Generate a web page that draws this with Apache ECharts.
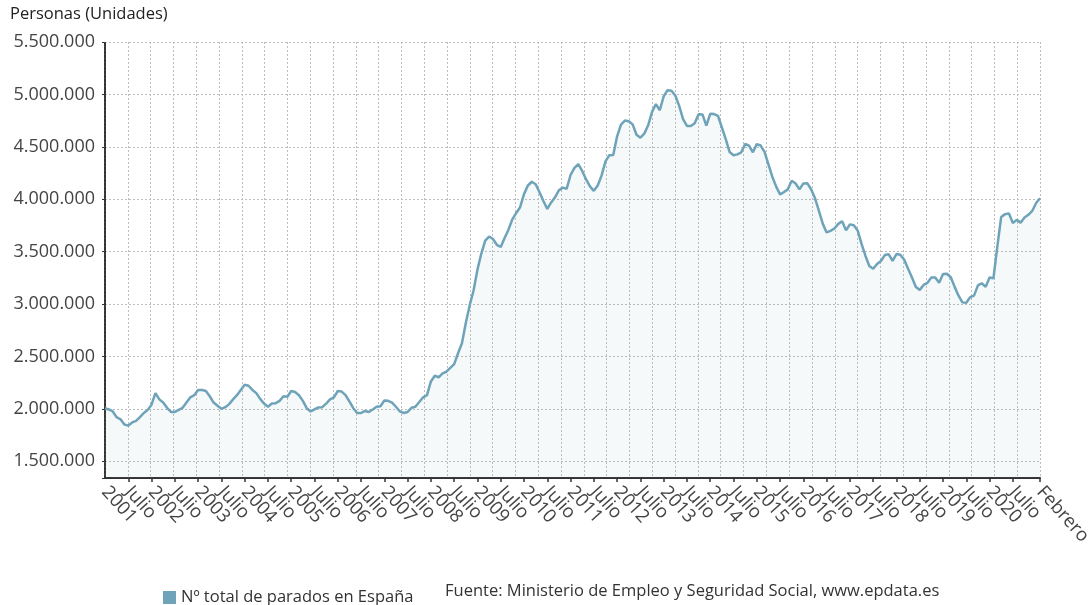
<!DOCTYPE html>
<html>
<head>
<meta charset="utf-8">
<title>Nº total de parados en España</title>
<script src="https://cdn.jsdelivr.net/npm/echarts@6/dist/echarts.min.js"></script>
<style>
  html, body { margin: 0; padding: 0; background: #fff; }
  #chart { width: 1088px; height: 605px; }
</style>
</head>
<body>
<div id="chart"></div>
<script>
// paro registrado, un array por año (enero..diciembre)
var paro2001 = [2006000, 1994000, 1975000, 1920000, 1900000, 1850000, 1840000, 1870000, 1885000, 1920000, 1960000, 1990000];
var paro2002 = [2040000, 2150000, 2090000, 2060000, 2010000, 1970000, 1970000, 1990000, 2010000, 2060000, 2110000, 2130000];
var paro2003 = [2180000, 2180000, 2170000, 2120000, 2060000, 2030000, 2000000, 2016000, 2045000, 2090000, 2130000, 2180000];
var paro2004 = [2230000, 2220000, 2180000, 2150000, 2095000, 2050000, 2020000, 2050000, 2054000, 2076000, 2120000, 2115000];
var paro2005 = [2170000, 2160000, 2130000, 2076000, 2006000, 1975000, 1994000, 2013000, 2016000, 2050000, 2090000, 2110000];
var paro2006 = [2170000, 2165000, 2130000, 2070000, 2006000, 1960000, 1960000, 1980000, 1970000, 1994000, 2020000, 2025000];
var paro2007 = [2080000, 2076000, 2060000, 2020000, 1975000, 1960000, 1970000, 2010000, 2020000, 2065000, 2110000, 2130000];
var paro2008 = [2261419, 2315331, 2300975, 2338517, 2353985, 2390411, 2426007, 2530001, 2625368, 2818026, 2989269, 3128963];
var paro2009 = [3327801, 3481859, 3605402, 3644041, 3620139, 3564889, 3544009, 3629105, 3709447, 3808353, 3868946, 3923603];
var paro2010 = [4048493, 4130625, 4166613, 4142425, 4066202, 3982368, 3908262, 3969661, 4017763, 4085976, 4110294, 4100073];
var paro2011 = [4231003, 4299263, 4333669, 4269360, 4189659, 4121801, 4080263, 4130927, 4226744, 4360926, 4420462, 4422359];
var paro2012 = [4599829, 4712098, 4750867, 4744235, 4714122, 4615269, 4587455, 4625634, 4705279, 4833521, 4907817, 4848723];
var paro2013 = [4980778, 5040222, 5035243, 4989193, 4890928, 4763680, 4698783, 4698814, 4724355, 4811383, 4808908, 4701338];
var paro2014 = [4814435, 4812486, 4795866, 4684301, 4572385, 4449701, 4419860, 4427930, 4447650, 4526804, 4512116, 4447711];
var paro2015 = [4525691, 4512153, 4451939, 4333016, 4215031, 4120304, 4046276, 4067955, 4094042, 4176369, 4149298, 4093508];
var paro2016 = [4150710, 4152986, 4094770, 4011171, 3891403, 3767054, 3683061, 3697496, 3720297, 3764982, 3789823, 3702974];
var paro2017 = [3760231, 3750876, 3702317, 3573036, 3461128, 3362811, 3335924, 3382324, 3410182, 3467026, 3474281, 3412781];
var paro2018 = [3476528, 3470248, 3422551, 3335868, 3252130, 3162162, 3135021, 3182068, 3202509, 3254139, 3252867, 3202297];
var paro2019 = [3285761, 3289040, 3255084, 3163566, 3079491, 3015686, 3011433, 3065804, 3079711, 3177659, 3198184, 3163605];
var paro2020 = [3253853, 3246047, 3548312, 3831203, 3857776, 3862883, 3773034, 3802814, 3776485, 3826043, 3851312, 3888137];
var paro2021 = [3964353, 4008789];

var anios = [2001, 2002, 2003, 2004, 2005, 2006, 2007, 2008, 2009, 2010, 2011,
             2012, 2013, 2014, 2015, 2016, 2017, 2018, 2019, 2020, 2021];
var meses = ['Enero', 'Febrero', 'Marzo', 'Abril', 'Mayo', 'Junio', 'Julio',
             'Agosto', 'Septiembre', 'Octubre', 'Noviembre', 'Diciembre'];
var porAnio = [paro2001, paro2002, paro2003, paro2004, paro2005, paro2006, paro2007,
               paro2008, paro2009, paro2010, paro2011, paro2012, paro2013, paro2014,
               paro2015, paro2016, paro2017, paro2018, paro2019, paro2020, paro2021];

var categorias = [];
var valores = [];
porAnio.forEach(function (serie, k) {
    serie.forEach(function (v, m) {
        categorias.push(meses[m] + ' ' + anios[k]);
        valores.push(v);
    });
});

var ultimo = categorias.length - 1;
// enero y julio de cada año hasta julio 2020, y el último mes
function marca(i) { return (i % 6 === 0 && i < ultimo - 6) || i === ultimo; }

function miles(v) {
    return String(v).replace(/\B(?=(\d{3})+(?!\d))/g, '.');
}

var fuente = '"Open Sans", "Noto Sans", sans-serif';
var azul = '#6ea3b9';

function etiqueta(v) {
    var p = v.split(' ');
    if (p[0] === 'Enero') return p[1];
    return p[0];
}

var estiloEtiqueta = {
    rotate: -48,
    margin: 11,
    fontSize: 18.5,
    color: '#444',
    hideOverlap: false,
    formatter: etiqueta
};

var chart = echarts.init(document.getElementById('chart'));

chart.setOption({
    animation: false,
    textStyle: { fontFamily: fuente },
    grid: { left: 105, right: 48, top: 42, bottom: 127, containLabel: false, outerBoundsMode: 'none' },
    legend: {
        left: 158,
        top: 584,
        icon: 'rect',
        itemWidth: 13,
        itemHeight: 13,
        itemGap: 6,
        textStyle: { fontFamily: fuente, fontSize: 16.5, color: '#333' },
        data: ['Nº total de parados en España']
    },
    graphic: [
        {
            type: 'text', left: 10, top: 6,
            style: { text: 'Personas (Unidades)', font: '16.5px ' + fuente, fill: '#222' }
        },
        {
            type: 'text', left: 445, top: 583,
            style: { text: 'Fuente: Ministerio de Empleo y Seguridad Social, www.epdata.es', font: '16.5px ' + fuente, fill: '#333' }
        }
    ],
    xAxis: [
        {
            type: 'category',
            data: categorias,
            boundaryGap: false,
            axisLine: { lineStyle: { color: '#333', width: 2 } },
            axisTick: { interval: marca, length: 4, lineStyle: { color: '#333', width: 1.5 } },
            axisLabel: Object.assign({}, estiloEtiqueta, {
                interval: marca,
                showMinLabel: false,
                showMaxLabel: true
            }),
            splitLine: { show: false }
        },
        {
            // rejilla vertical: 41 divisiones iguales
            type: 'value',
            min: 0,
            max: 41,
            interval: 1,
            position: 'top',
            axisLine: { show: false },
            axisTick: { show: false },
            axisLabel: { show: false },
            splitLine: { show: true, lineStyle: { color: '#bdbdbd', width: 1, type: [2, 2] } }
        },
        {
            // solo la primera etiqueta (2001)
            type: 'category',
            data: categorias,
            boundaryGap: false,
            position: 'bottom',
            axisLine: { show: false },
            axisTick: { show: false },
            axisLabel: Object.assign({}, estiloEtiqueta, {
                interval: function (i) { return i === 0; },
                showMinLabel: true,
                showMaxLabel: false
            }),
            splitLine: { show: false }
        }
    ],
    yAxis: {
        type: 'value',
        min: 1340000,
        max: 5500000,
        splitNumber: 8,
        axisLine: { show: true, lineStyle: { color: '#333', width: 2, type: [3, 1] } },
        axisTick: { show: true, length: 3, lineStyle: { color: '#333' } },
        axisLabel: {
            fontSize: 18,
            color: '#444',
            margin: 10,
            formatter: function (v) { return v % 500000 === 0 ? miles(v) : ''; }
        },
        splitLine: { show: true, lineStyle: { color: '#bdbdbd', width: 1, type: [2, 2] } }
    },
    series: [
        {
            name: 'Nº total de parados en España',
            type: 'line',
            data: valores,
            xAxisIndex: 0,
            symbol: 'none',
            smooth: false,
            itemStyle: { color: azul },
            lineStyle: { color: azul, width: 2.5 },
            areaStyle: { color: 'rgba(110,163,185,0.1)', origin: 'start' }
        }
    ]
});
</script>
</body>
</html>
